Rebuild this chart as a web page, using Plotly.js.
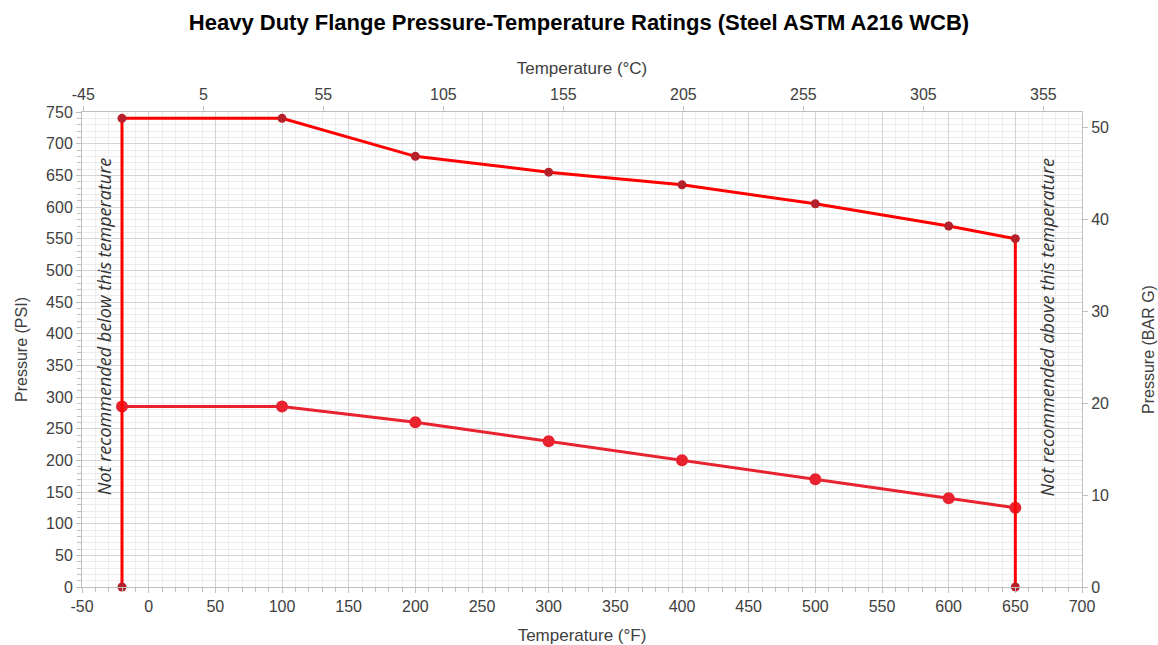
<!DOCTYPE html>
<html>
<head>
<meta charset="utf-8">
<script src="https://cdn.plot.ly/plotly-3.0.1.min.js"></script>
<style>html,body{margin:0;padding:0;background:#fff;}#chart{width:1158px;height:645px;}</style>
</head>
<body>
<div id="chart"></div>
<script>
// Class 300 rating (upper curve), including the vertical limit lines
const upperTempF = [-20, -20, 100, 200, 300, 400, 500, 600, 650, 650];
const upperPsi   = [0, 740, 740, 680, 655, 635, 605, 570, 550, 0];
// Class 150 rating (lower curve)
const lowerTempF = [-20, 100, 200, 300, 400, 500, 600, 650];
const lowerPsi   = [285, 285, 260, 230, 200, 170, 140, 125];

// Tick labels
const fTickVals = [-50, 0, 50, 100, 150, 200, 250, 300, 350, 400, 450, 500, 550, 600, 650, 700];
const fTickText = ['-50', '0', '50', '100', '150', '200', '250', '300', '350', '400', '450', '500', '550', '600', '650', '700'];
const cTickVals = [-45, 5, 55, 105, 155, 205, 255, 305, 355];
const cTickText = ['-45', '5', '55', '105', '155', '205', '255', '305', '355'];

const fRange = [-50, 700];
const psiRange = [0, 750];
const cRange = fRange.map(f => (f - 32) / 1.8);
const barRange = psiRange.map(p => p / 14.5038);

const tickFont = {family: 'Liberation Sans, Arial, sans-serif', size: 16, color: '#404040'};
const titleFont = {family: 'Liberation Sans, Arial, sans-serif', size: 16, color: '#404040'};
const xTitleFont = {family: 'Liberation Sans, Arial, sans-serif', size: 17, color: '#404040'};

const traces = [
  {
    x: lowerTempF, y: lowerPsi, type: 'scatter', mode: 'lines+markers',
    line: {color: '#e8222e', width: 3},
    marker: {color: '#e8222e', size: 12},
    hoverinfo: 'x+y', showlegend: false
  },
  {
    x: upperTempF, y: upperPsi, type: 'scatter', mode: 'lines+markers',
    line: {color: '#ff0000', width: 3},
    marker: {color: '#b5212b', size: 9},
    hoverinfo: 'x+y', showlegend: false, cliponaxis: false
  },
  {
    x: [cRange[0]], y: [barRange[0]], xaxis: 'x2', yaxis: 'y2', type: 'scatter', mode: 'markers',
    marker: {opacity: 0}, hoverinfo: 'skip', showlegend: false
  }
];

const layout = {
  width: 1158, height: 645,
  margin: {l: 82, r: 76, t: 112, b: 58},
  paper_bgcolor: '#ffffff', plot_bgcolor: '#ffffff',
  title: {
    text: '<b>Heavy Duty Flange Pressure-Temperature Ratings (Steel ASTM A216 WCB)</b>',
    font: {family: 'Liberation Sans Narrow, Arial Narrow, sans-serif', size: 22, color: '#000000'},
    x: 0.5, xanchor: 'center', y: 0.965, yanchor: 'middle'
  },
  xaxis: {
    range: fRange, tickmode: 'array', tickvals: fTickVals, ticktext: fTickText,
    showgrid: true, gridcolor: '#d4d4d4', gridwidth: 1,
    minor: {dtick: 10, tick0: 0, showgrid: true, gridcolor: '#ececec', ticks: 'outside', ticklen: 4, tickcolor: '#bfbfbf'},
    ticks: 'outside', ticklen: 5, tickcolor: '#bfbfbf',
    showline: true, linecolor: '#bfbfbf', linewidth: 1, mirror: false,
    zeroline: false, tickfont: tickFont,
    title: {text: 'Temperature (°F)', font: xTitleFont, standoff: 16}
  },
  yaxis: {
    range: psiRange, dtick: 50, tick0: 0,
    showgrid: true, gridcolor: '#d4d4d4', gridwidth: 1,
    minor: {dtick: 10, showgrid: true, gridcolor: '#ececec', ticks: 'outside', ticklen: 4, tickcolor: '#bfbfbf'},
    ticks: 'outside', ticklen: 5, tickcolor: '#bfbfbf',
    showline: true, linecolor: '#bfbfbf', linewidth: 1,
    zeroline: false, tickfont: tickFont,
    title: {text: 'Pressure (PSI)', font: titleFont, standoff: 14}
  },
  xaxis2: {
    overlaying: 'x', side: 'top', anchor: 'y',
    range: cRange, tickmode: 'array', tickvals: cTickVals, ticktext: cTickText,
    showgrid: false, zeroline: false,
    ticks: 'outside', ticklen: 5, tickcolor: '#bfbfbf',
    showline: true, linecolor: '#bfbfbf', linewidth: 1,
    tickfont: tickFont,
    title: {text: 'Temperature (°C)', font: xTitleFont, standoff: 6}
  },
  yaxis2: {
    overlaying: 'y', side: 'right', anchor: 'x',
    range: barRange, tick0: 0, dtick: 10,
    showgrid: false, zeroline: false,
    ticks: 'outside', ticklen: 5, tickcolor: '#bfbfbf',
    showline: true, linecolor: '#bfbfbf', linewidth: 1,
    tickfont: tickFont,
    title: {text: 'Pressure (BAR G)', font: titleFont, standoff: 34}
  },
  annotations: [
    {
      text: '<i>Not recommended below this temperature</i>',
      xref: 'x', yref: 'paper', x: -20, y: 0.547, xanchor: 'center', yanchor: 'middle',
      xshift: -18, textangle: -90, showarrow: false,
      font: {family: 'Open Sans, sans-serif', size: 18, color: '#333333'}
    },
    {
      text: '<i>Not recommended above this temperature</i>',
      xref: 'x', yref: 'paper', x: 650, y: 0.547, xanchor: 'center', yanchor: 'middle',
      xshift: 32, textangle: -90, showarrow: false,
      font: {family: 'Open Sans, sans-serif', size: 18, color: '#333333'}
    }
  ]
};

Plotly.newPlot('chart', traces, layout, {displayModeBar: false});
</script>
</body>
</html>
